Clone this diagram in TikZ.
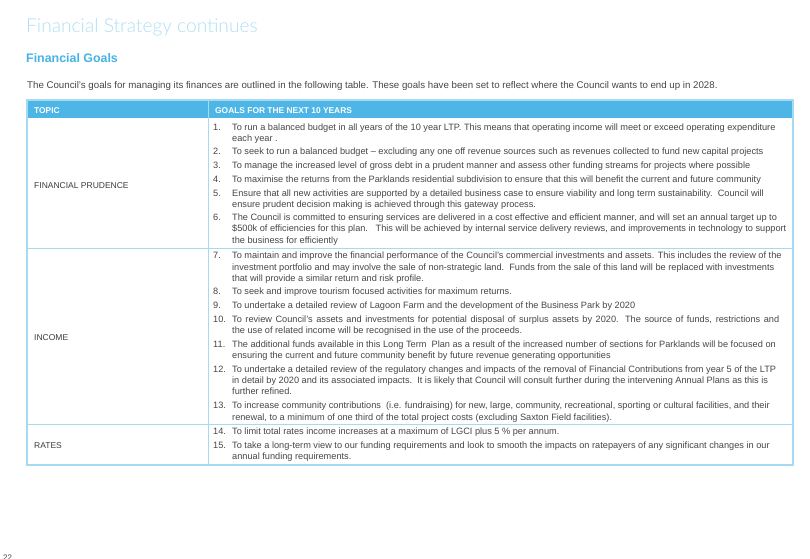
\documentclass[tikz,border=0pt]{standalone}
\usepackage{fontspec}
\setmainfont{Liberation Sans}
\newfontfamily\titlefont{Lato Light}
\definecolor{hdr}{HTML}{4DB6E6}
\definecolor{bord}{HTML}{A6DAF2}
\definecolor{ttl}{HTML}{B0DFF5}
\definecolor{goalc}{HTML}{45B3E6}
\definecolor{txt}{HTML}{474747}
\begin{document}
\begin{tikzpicture}[x=1pt,y=-1pt,
  gline/.style={anchor=base west,inner sep=0pt,font=\fontsize{9.2}{11}\selectfont,text=txt},
  gnum/.style={gline},
  topic/.style={anchor=base west,inner sep=0pt,font=\fontsize{8.5}{10}\selectfont,text=txt!85!black},
  hdrtext/.style={anchor=base west,inner sep=0pt,font=\bfseries\fontsize{8.4}{10}\selectfont,text=white},
  rule/.style={draw=bord,line width=0.9pt}]
\useasboundingbox[fill=white] (0,0) rectangle (810,558);
% titles
\node[anchor=base west,inner sep=0pt,font=\titlefont\fontsize{19.2}{22}\selectfont,text=ttl] (title) at (26,32.7) {Financial Strategy continues};
\node[anchor=base west,inner sep=0pt,font=\bfseries\fontsize{12.4}{14}\selectfont,text=goalc] (sub) at (26,62.7) {Financial Goals};
\node[anchor=base west,inner sep=0pt,font=\fontsize{9.7}{11}\selectfont,text=txt] (intro) at (27,88) {The Council’s goals for managing its finances are outlined in the following table. These goals have been set to reflect where the Council wants to end up in 2028.};
% table
\fill[hdr] (27,100) rectangle (793,118);
\draw[rule] (208,100) -- (208,465);
\draw[rule] (27,248) -- (793,248);
\draw[rule] (27,424) -- (793,424);
\draw[draw=bord,line width=1.3pt] (27,100) rectangle (793,465);
\node[hdrtext] (htopic) at (34,113.6) {TOPIC};
\node[hdrtext] (hgoals) at (215,113.6) {GOALS FOR THE NEXT 10 YEARS};
\node[topic] (tfp) at (34,188) {FINANCIAL PRUDENCE};
\node[topic] (tinc) at (34,340) {INCOME};
\node[topic] (trat) at (34,448) {RATES};
% goals
\node[gnum] (n1) at (213,130) {1.};
\node[gline] (g1a) at (232,130) {To run a balanced budget in all years of the 10 year LTP. This means that operating income will meet or exceed operating expenditure};
\node[gline] (g1b) at (232,141.5) {each year .};
\node[gnum] (n2) at (213,154) {2.};
\node[gline] (g2) at (232,154) {To seek to run a balanced budget – excluding any one off revenue sources such as revenues collected to fund new capital projects};
\node[gnum] (n3) at (213,168) {3.};
\node[gline] (g3) at (232,168) {To manage the increased level of gross debt in a prudent manner and assess other funding streams for projects where possible};
\node[gnum] (n4) at (213,182) {4.};
\node[gline] (g4) at (232,182) {To maximise the returns from the Parklands residential subdivision to ensure that this will benefit the current and future community};
\node[gnum] (n5) at (213,196.5) {5.};
\node[gline] (g5a) at (232,196.5) {Ensure that all new activities are supported by a detailed business case to ensure viability and long term sustainability.\ \ Council will};
\node[gline] (g5b) at (232,207.5) {ensure prudent decision making is achieved through this gateway process.};
\node[gnum] (n6) at (213,220) {6.};
\node[gline] (g6a) at (232,220) {The Council is committed to ensuring services are delivered in a cost effective and efficient manner, and will set an annual target up to};
\node[gline] (g6b) at (232,231.5) {\$500k of efficiencies for this plan.\ \ \ This will be achieved by internal service delivery reviews, and improvements in technology to support};
\node[gline] (g6c) at (232,243) {the business for efficiently};
\node[gnum] (n7) at (213,258) {7.};
\node[gline] (g7a) at (232,258) {To maintain and improve the financial performance of the Council’s commercial investments and assets. This includes the review of the};
\node[gline] (g7b) at (232,270) {investment portfolio and may involve the sale of non-strategic land.\ \ Funds from the sale of this land will be replaced with investments};
\node[gline] (g7c) at (232,281.5) {that will provide a similar return and risk profile.};
\node[gnum] (n8) at (213,294) {8.};
\node[gline] (g8) at (232,294) {To seek and improve tourism focused activities for maximum returns.};
\node[gnum] (n9) at (213,308.5) {9.};
\node[gline] (g9) at (232,308.5) {To undertake a detailed review of Lagoon Farm and the development of the Business Park by 2020};
\node[gnum] (n10) at (213,322) {10.};
\node[gline] (g10a) at (232,322) {\makebox[547pt][s]{To review Council’s assets and investments for potential disposal of surplus assets by 2020. The source of funds, restrictions and}};
\node[gline] (g10b) at (232,333) {the use of related income will be recognised in the use of the proceeds.};
\node[gnum] (n11) at (213,347) {11.};
\node[gline] (g11a) at (232,347) {The additional funds available in this Long Term\ \ Plan as a result of the increased number of sections for Parklands will be focused on};
\node[gline] (g11b) at (232,358) {ensuring the current and future community benefit by future revenue generating opportunities};
\node[gnum] (n12) at (213,372) {12.};
\node[gline] (g12a) at (232,372) {To undertake a detailed review of the regulatory changes and impacts of the removal of Financial Contributions from year 5 of the LTP};
\node[gline] (g12b) at (232,383) {in detail by 2020 and its associated impacts.\ \ It is likely that Council will consult further during the intervening Annual Plans as this is};
\node[gline] (g12c) at (232,394) {further refined.};
\node[gnum] (n13) at (213,408) {13.};
\node[gline] (g13a) at (232,408) {To increase community contributions\ \ (i.e. fundraising) for new, large, community, recreational, sporting or cultural facilities, and their};
\node[gline] (g13b) at (232,420) {renewal, to a minimum of one third of the total project costs (excluding Saxton Field facilities).};
\node[gnum] (n14) at (213,434) {14.};
\node[gline] (g14) at (232,434) {To limit total rates income increases at a maximum of LGCI plus 5 \% per annum.};
\node[gnum] (n15) at (213,448) {15.};
\node[gline] (g15a) at (232,448) {To take a long-term view to our funding requirements and look to smooth the impacts on ratepayers of any significant changes in our};
\node[gline] (g15b) at (232,459) {annual funding requirements.};
% page number
\node[anchor=north west,inner sep=0pt,font=\fontsize{8}{9}\selectfont,text=txt] (pg) at (3,554.5) {22};
\end{tikzpicture}
\end{document}
